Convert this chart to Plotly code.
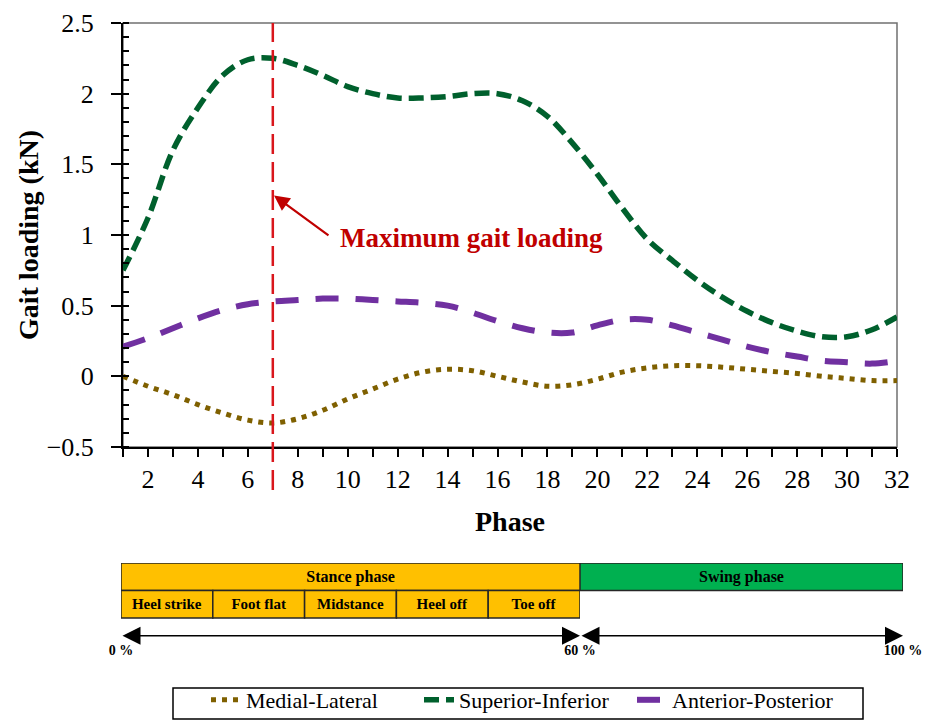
import plotly.graph_objects as go

# ---------------- data ----------------
phase = list(range(1, 33))
x_tick_labels = [str(p) if p % 2 == 0 else "" for p in phase]

medial_lateral = [0.0, -0.07, -0.13, -0.2, -0.26, -0.31, -0.33, -0.3, -0.24, -0.16,
                  -0.09, -0.02, 0.03, 0.05, 0.04, 0.0, -0.04, -0.07, -0.06, -0.02,
                  0.03, 0.06, 0.075, 0.075, 0.065, 0.05, 0.035, 0.02, 0.0, -0.015,
                  -0.03, -0.03]
superior_inferior = [0.75, 1.12, 1.6, 1.9, 2.13, 2.24, 2.25, 2.2, 2.13, 2.05,
                     2.0, 1.97, 1.97, 1.98, 2.0, 2.0, 1.95, 1.84, 1.65, 1.43,
                     1.19, 0.97, 0.82, 0.68, 0.56, 0.46, 0.38, 0.32, 0.28, 0.28,
                     0.33, 0.42]
anterior_posterior = [0.21, 0.27, 0.34, 0.41, 0.47, 0.51, 0.53, 0.54, 0.55, 0.55,
                      0.54, 0.53, 0.52, 0.5, 0.45, 0.39, 0.34, 0.31, 0.31, 0.36,
                      0.4, 0.4, 0.36, 0.31, 0.26, 0.21, 0.17, 0.14, 0.11, 0.1,
                      0.09, 0.11]

y_tick_vals = [-0.5, 0, 0.5, 1, 1.5, 2, 2.5]
y_tick_labels = ["\u22120.5", "0", "0.5", "1", "1.5", "2", "2.5"]

max_phase = 7
max_label = "Maximum gait loading"

stance_label = "Stance phase"
swing_label = "Swing phase"
stance_range = [0, 60]
swing_range = [60, 100]
stance_events = ["Heel strike", "Foot flat", "Midstance", "Heel off", "Toe off"]
event_bounds = [0, 12, 24, 36, 48, 60]
stance_pct_vals = [0, 60]
stance_pct_labels = ["0 %", "60 %"]
swing_pct_vals = [100]
swing_pct_labels = ["100 %"]

# ---------------- style ----------------
FONT = "Liberation Serif, Times New Roman, serif"
C_ML = "#7F6000"
C_SI = "#00602D"
C_AP = "#7030A0"
C_RED = "#D9161C"
C_STANCE = "#FFC000"
C_SWING = "#00B050"

fig = go.Figure()

fig.add_trace(go.Scatter(x=phase, y=medial_lateral, name="Medial-Lateral", mode="lines",
                         line=dict(color=C_ML, width=5, dash="5px,6px", shape="spline", smoothing=1)))
fig.add_trace(go.Scatter(x=phase, y=superior_inferior, name="Superior-Inferior", mode="lines",
                         line=dict(color=C_SI, width=5.5, dash="15px,7px", shape="spline", smoothing=1)))
fig.add_trace(go.Scatter(x=phase, y=anterior_posterior, name="Anterior-Posterior", mode="lines",
                         line=dict(color=C_AP, width=6, dash="23px,17px", shape="spline", smoothing=1)))

bar_common = dict(orientation="h", width=1, textposition="inside", insidetextanchor="middle",
                  textangle=0, constraintext="none", showlegend=False, hoverinfo="skip",
                  cliponaxis=False)
edge = dict(color="#262626", width=1.5)

fig.add_trace(go.Bar(y=[0], x=[stance_range[1] - stance_range[0]], base=[stance_range[0]],
                     text=[stance_label], marker=dict(color=C_STANCE, line=edge),
                     textfont=dict(family=FONT, size=16, color="black", weight="bold"),
                     xaxis="x2", yaxis="y2", **bar_common))
fig.add_trace(go.Bar(y=[1] * len(stance_events),
                     x=[event_bounds[i + 1] - event_bounds[i] for i in range(len(stance_events))],
                     base=event_bounds[:-1], text=stance_events,
                     marker=dict(color=C_STANCE, line=edge),
                     textfont=dict(family=FONT, size=15, color="black", weight="bold"),
                     xaxis="x2", yaxis="y2", **bar_common))
fig.add_trace(go.Bar(y=[0], x=[swing_range[1] - swing_range[0]], base=[swing_range[0]],
                     text=[swing_label], marker=dict(color=C_SWING, line=edge),
                     textfont=dict(family=FONT, size=16, color="black", weight="bold"),
                     xaxis="x3", yaxis="y2", **bar_common))

# geometry (pixels -> paper)
W, H = 927, 721
ML, MR, MT, MB = 121, 24, 23, 0
PW = W - ML - MR
PH = H - MT - MB
def px_x(p):
    return (p - ML) / PW
def px_y(p):
    return (H - MB - p) / PH

annotations = []
arrow_y = 2.15
for ref, rng in (("x2", stance_range), ("x3", swing_range)):
    annotations.append(dict(x=rng[1], y=arrow_y, ax=rng[0], ay=arrow_y, xref=ref, yref="y2",
                            axref=ref, ayref="y2", text="", showarrow=True,
                            arrowhead=2, startarrowhead=2, arrowside="end+start",
                            arrowsize=2.4, startarrowsize=2.4, arrowwidth=1.5,
                            arrowcolor="black"))
annotations.append(dict(x=max_phase + 0.05, y=1.28, ax=9.29, ay=0.99, xref="x", yref="y",
                        axref="x", ayref="y", text="", showarrow=True, arrowhead=2,
                        arrowsize=1.4, arrowwidth=2.2, arrowcolor="#C00000"))
annotations.append(dict(x=9.61, y=0.98, xref="x", yref="y", text=max_label, showarrow=False,
                        xanchor="left", yanchor="middle",
                        font=dict(family=FONT, size=27, color="#C00000", weight="bold")))

shapes = [
    dict(type="rect", xref="x domain", yref="y domain", x0=0, x1=1, y0=0, y1=1,
         line=dict(color="#707070", width=1.5), layer="below"),
    dict(type="line", xref="x", yref="paper", x0=max_phase, x1=max_phase,
         y0=px_y(490), y1=1, line=dict(color=C_RED, width=2.5, dash="20px,8px")),
    dict(type="rect", xref="paper", yref="paper", x0=px_x(173), x1=px_x(863),
         y0=px_y(719), y1=px_y(688), line=dict(color="black", width=1.5)),
]

pct_axis = dict(ticks="inside", ticklen=11, tickwidth=1.5, tickcolor="black",
                showline=False, showgrid=False, zeroline=False, tickmode="array",
                automargin=False,
                tickfont=dict(family=FONT, size=14, weight="bold"), anchor="y2")

fig.update_layout(
    width=W, height=H,
    margin=dict(l=ML, r=MR, t=MT, b=MB, autoexpand=False),
    paper_bgcolor="white", plot_bgcolor="white",
    font=dict(family=FONT, color="black"),
    barmode="overlay",
    showlegend=True,
    legend=dict(orientation="h", x=px_x(206), xanchor="left", y=0, yanchor="bottom",
                bgcolor="rgba(0,0,0,0)", borderwidth=0, font=dict(family=FONT, size=22),
                entrywidth=168, entrywidthmode="pixels", traceorder="normal"),
    xaxis=dict(domain=[px_x(123), px_x(897)], range=[1, 32], anchor="y", automargin=False,
               tickmode="array", tickvals=phase, ticktext=x_tick_labels,
               ticks="outside", ticklen=8, tickwidth=2, tickcolor="black",
               showline=True, linecolor="black", linewidth=2, showgrid=False, zeroline=False,
               tickfont=dict(family=FONT, size=26),
               title=dict(text="<b>Phase</b>", font=dict(family=FONT, size=28), standoff=18)),
    yaxis=dict(domain=[px_y(447), 1], range=[-0.5, 2.5], anchor="x", automargin=False,
               tickmode="array", tickvals=y_tick_vals, ticktext=y_tick_labels,
               ticks="outside", ticklen=10, tickwidth=2, tickcolor="black",
               ticklabelstandoff=12,
               minor=dict(tickmode="linear", tick0=-0.5, dtick=0.1, ticks="inside",
                          ticklen=6, tickwidth=1.5, tickcolor="black"),
               showline=True, linecolor="black", linewidth=2, showgrid=False, zeroline=False,
               tickfont=dict(family=FONT, size=26),
               title=dict(text="<b>Gait loading (kN)</b>", font=dict(family=FONT, size=28), standoff=0)),
    xaxis2=dict(domain=[px_x(121), px_x(580)], range=stance_range,
                tickvals=stance_pct_vals, ticktext=stance_pct_labels, **pct_axis),
    xaxis3=dict(domain=[px_x(580), px_x(903)], range=swing_range,
                tickvals=swing_pct_vals, ticktext=swing_pct_labels, **pct_axis),
    yaxis2=dict(domain=[px_y(640), px_y(563)], range=[2.3, -0.5], anchor="x2",
                visible=False, showgrid=False, zeroline=False, automargin=False),
    annotations=annotations,
    shapes=shapes,
)

fig.write_html("out.html")
